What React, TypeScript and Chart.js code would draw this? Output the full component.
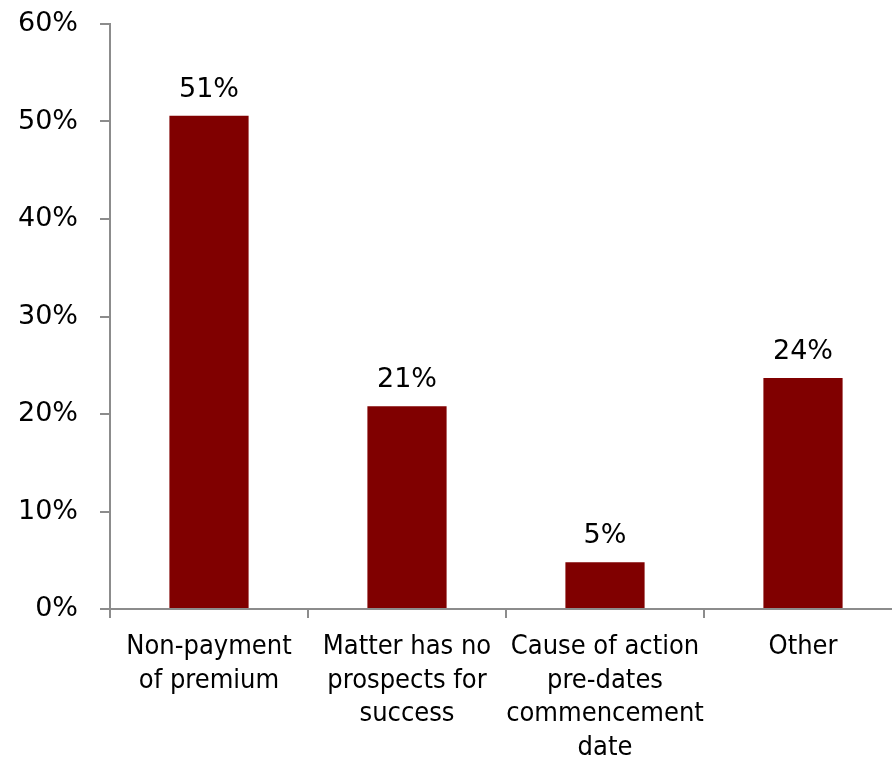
import React, { useEffect, useRef } from "react";
import { Chart, registerables } from "chart.js";

Chart.register(...registerables);

const categories: string[][] = [
  ["Non-payment", "of premium"],
  ["Matter has no", "prospects for", "success"],
  ["Cause of action", "pre-dates", "commencement", "date"],
  ["Other"],
];
const values: number[] = [50.6, 20.8, 4.8, 23.7];
const valueLabels: string[] = ["51%", "21%", "5%", "24%"];
const yTicks: number[] = [0, 10, 20, 30, 40, 50, 60];

const FONT = "'DejaVu Sans Condensed', 'DejaVu Sans', sans-serif";
const NUM_FONT = "'DejaVu Sans', sans-serif";
const FONT_SIZE = 27;
const AXIS_COLOR = "#8c8c8c";

const labelPlugin = {
  id: "valueLabels",
  afterDatasetsDraw(chart: any) {
    const ctx = chart.ctx;
    const meta = chart.getDatasetMeta(0);
    ctx.save();
    ctx.font = `${FONT_SIZE}px ${NUM_FONT}`;
    ctx.fillStyle = "#000";
    ctx.textAlign = "center";
    ctx.textBaseline = "alphabetic";
    meta.data.forEach((el: any, i: number) => {
      ctx.fillText(valueLabels[i], el.x, el.y - 19);
    });
    ctx.restore();
  },
};

export default function App() {
  const ref = useRef<HTMLCanvasElement | null>(null);
  useEffect(() => {
    if (!ref.current) return;
    const chart = new Chart(ref.current, {
      type: "bar",
      data: {
        labels: categories,
        datasets: [
          {
            data: values,
            backgroundColor: "#800000",
            borderWidth: 0,
            barPercentage: 0.4,
            categoryPercentage: 1,
          },
        ],
      },
      options: {
        animation: false,
        responsive: false,
        maintainAspectRatio: false,
        layout: { padding: { top: 24, right: 0, left: 0, bottom: 0 } },
        plugins: { legend: { display: false }, tooltip: { enabled: false } },
        scales: {
          x: {
            offset: true,
            grid: {
              offset: true,
              drawOnChartArea: false,
              drawTicks: true,
              tickLength: 9,
              color: AXIS_COLOR,
              lineWidth: 2,
            },
            border: { color: AXIS_COLOR, width: 2 },
            ticks: {
              color: "#000",
              font: { family: FONT, size: FONT_SIZE, lineHeight: 1.25 },
              padding: 12,
              maxRotation: 0,
              autoSkip: false,
            },
            afterFit: (s: any) => {
              s.height = 150;
              s.paddingLeft = 0;
              s.paddingRight = 0;
            },
          },
          y: {
            min: 0,
            max: 60,
            afterBuildTicks: (s: any) => {
              s.ticks = yTicks.map((v) => ({ value: v }));
            },
            grid: {
              drawOnChartArea: false,
              drawTicks: true,
              tickLength: 10,
              color: AXIS_COLOR,
              lineWidth: 2,
            },
            border: { color: AXIS_COLOR, width: 2 },
            ticks: {
              color: "#000",
              font: { family: NUM_FONT, size: FONT_SIZE },
              padding: 22,
              callback: (v: any) => `${v}%`,
            },
            afterFit: (s: any) => {
              s.width = 110;
              s.paddingTop = 0;
              s.paddingBottom = 0;
            },
          },
        },
      },
      plugins: [labelPlugin],
    });
    return () => chart.destroy();
  }, []);
  return (
    <div
      style={{
        position: "absolute",
        left: 0,
        top: 0,
        width: 892,
        height: 759,
        overflow: "hidden",
        background: "#fff",
      }}
    >
      <canvas ref={ref} width={902} height={759} style={{ display: "block" }} />
    </div>
  );
}
